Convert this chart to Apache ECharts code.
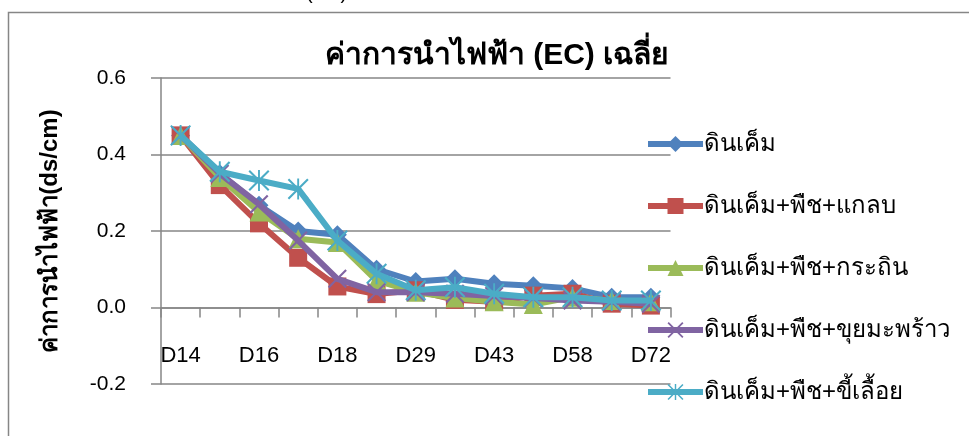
<!DOCTYPE html>
<html><head><meta charset="utf-8">
<script src="https://cdn.jsdelivr.net/npm/echarts@6/dist/echarts.min.js"></script>
<style>html,body{margin:0;padding:0;background:#fff;overflow:hidden}#c{width:969px;height:436px}</style>
</head><body><div id="c"></div>
<script>
const categories = ['D14','D15','D16','D17','D18','D22','D29','D36','D43','D50','D58','D65','D72'];
const soil      = [0.45, 0.35, 0.267, 0.20, 0.19, 0.10, 0.068, 0.075, 0.062, 0.057, 0.050, 0.027, 0.027];
const galangal  = [0.45, 0.32, 0.22, 0.13, 0.055, 0.035, 0.045, 0.02, 0.015, 0.031, 0.036, 0.01, 0.005];
const krathin   = [0.45, 0.34, 0.25, 0.18, 0.17, 0.07, 0.04, 0.025, 0.015, 0.008, 0.027, 0.018, 0.015];
const coconut   = [0.45, 0.35, 0.27, 0.175, 0.075, 0.04, 0.04, 0.036, 0.03, 0.025, 0.018, 0.015, 0.01];
const sawdust   = [0.45, 0.355, 0.332, 0.31, 0.175, 0.088, 0.045, 0.053, 0.036, 0.027, 0.027, 0.018, 0.018];
const seriesNames = ['ดินเค็ม','ดินเค็ม+พืช+แกลบ','ดินเค็ม+พืช+กระถิน','ดินเค็ม+พืช+ขุยมะพร้าว','ดินเค็ม+พืช+ขี้เลื้อย'];
const yTicks = [-0.2, 0.0, 0.2, 0.4, 0.6];

const FONT = 'Arial, "Liberation Sans", "Noto Sans", sans-serif';
const colors = ['#4F81BD','#C0504D','#9BBB59','#8064A2','#4BACC6'];
const xPath = 'path://M0,1.6 L1.6,0 L20,18.4 L18.4,20 Z M18.4,0 L20,1.6 L1.6,20 L0,18.4 Z';
const starPath = 'path://M0,1.4 L1.4,0 L20,18.6 L18.6,20 Z M18.6,0 L20,1.4 L1.4,20 L0,18.6 Z M9.1,0 L10.9,0 L10.9,20 L9.1,20 Z';
const symbols = ['diamond','rect','triangle',xPath,starPath];
const sizes = [19,18,19,19,21];
const data = [soil, galangal, krathin, coconut, sawdust];

const chart = echarts.init(document.getElementById('c'), null, {renderer:'canvas'});
chart.setOption({
  animation:false,
  color: colors,
  textStyle:{fontFamily:FONT},
  title:{
    text:'ค่าการนำไฟฟ้า (EC) เฉลี่ย',
    left:492, top:36, textAlign:'center',
    textStyle:{fontFamily:FONT, fontSize:30, fontWeight:'bold', color:'#000'}
  },
  graphic:[
    {type:'rect', shape:{x:8.5,y:12.5,width:1100,height:600}, style:{fill:'none', stroke:'#868686', lineWidth:1.5}, silent:true},
    {type:'text', left:306, top:-17, style:{text:'(EC)', font:'20px '+FONT, fill:'#000'}}
  ],
  legend:{
    orient:'vertical', left:640, top:125,
    itemWidth:55, itemHeight:20, itemGap:34,
    lineStyle:{width:6},
    textStyle:{fontFamily:FONT, fontSize:24, color:'#000', lineHeight:28, padding:[0,0,0,-4]},
    data: seriesNames
  },
  grid:{left:161, right:298.5, top:78, bottom:52, containLabel:false, outerBoundsMode:'none'},
  xAxis:[{
    type:'category', data:categories, boundaryGap:true,
    axisLine:{onZero:true, lineStyle:{color:'#868686', width:1.5}},
    axisTick:{show:true, interval:0, length:10, lineStyle:{color:'#868686', width:1.5}},
    axisLabel:{show:false},
    splitLine:{show:false}
  },{
    type:'category', data:categories, boundaryGap:true, position:'bottom', offset:-41,
    axisLine:{show:false, onZero:false}, axisTick:{show:false},
    axisLabel:{interval:1, margin:2, fontSize:22, color:'#000', fontFamily:FONT},
    splitLine:{show:false}
  }],
  yAxis:{
    type:'value', min:-0.2, max:0.6, interval:0.2,
    name:'ค่าการนำไฟฟ้า(ds/cm)', nameLocation:'middle', nameGap:99, nameRotate:90,
    nameTextStyle:{fontFamily:FONT, fontSize:24, fontWeight:'bold', color:'#000'},
    axisLine:{show:true, lineStyle:{color:'#868686', width:1.5}},
    axisTick:{show:true, length:10, lineStyle:{color:'#868686', width:1.5}},
    axisLabel:{margin:35, fontSize:21, color:'#000', fontFamily:FONT,
      formatter:v=>{const t=yTicks.find(x=>Math.abs(x-v)<1e-9); return (t===undefined?v:t).toFixed(1);}},
    splitLine:{show:true, lineStyle:{color:'#868686', width:1.5}}
  },
  series: seriesNames.map((n,i)=>({
    name:n, type:'line', data:data[i], xAxisIndex:0,
    symbol:symbols[i], symbolSize:sizes[i],
    lineStyle:{width:6, color:colors[i]},
    itemStyle:{color:colors[i]},
    z:2+i
  }))
});
</script></body></html>
